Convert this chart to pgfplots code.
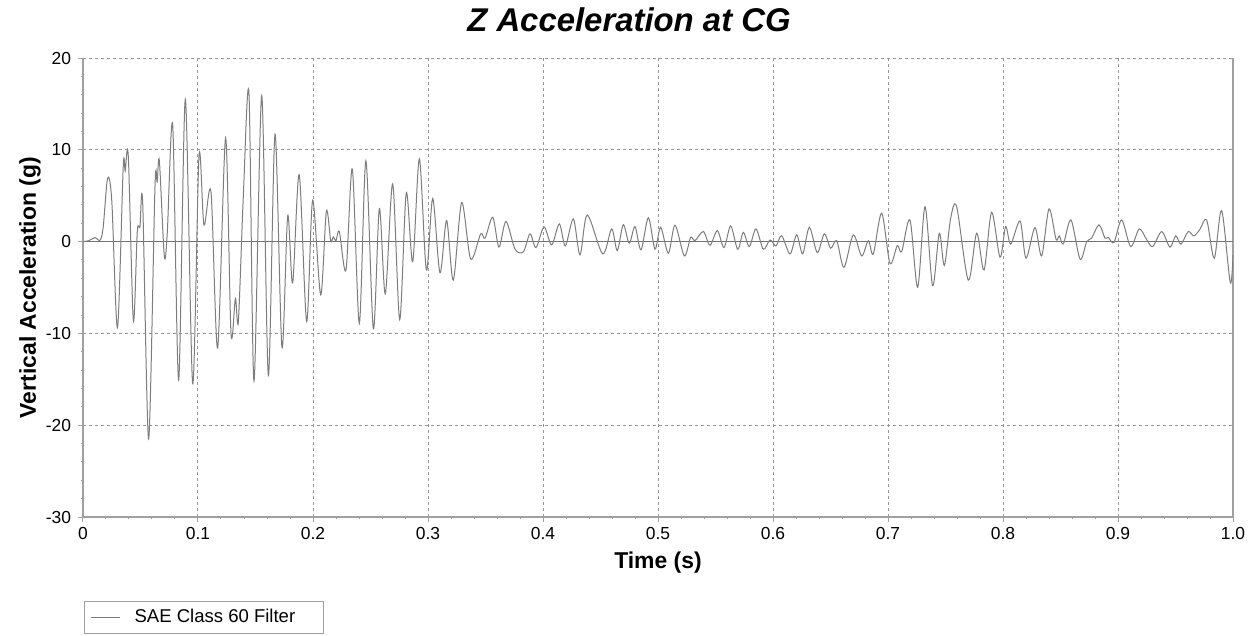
\documentclass[border=0pt]{standalone}
\usepackage{pgfplots}
\pgfplotsset{compat=1.18}
\usepackage{fontspec}
\setmainfont{Liberation Sans}

\definecolor{sigline}{RGB}{125,125,125}
\definecolor{gridc}{RGB}{150,150,150}
\definecolor{axisc}{RGB}{160,160,160}

\begin{document}
\begin{tikzpicture}
% fixed page frame, the axis box sits at (0,0)
\path[use as bounding box] (-41.5bp,-59.5bp) rectangle (588bp,258.5bp);
\begin{axis}[
    scale only axis,
    width=575bp, height=229.5bp,
    xmin=0, xmax=1, ymin=-30, ymax=20,
    axis x line*=bottom, axis y line*=box,
    ytick pos=left,
    axis line style={axisc, line width=0.6bp},
    xtick={0,0.1,...,1.0},
    xticklabels={0,0.1,0.2,0.3,0.4,0.5,0.6,0.7,0.8,0.9,1.0},
    ytick={-30,-20,...,20},
    minor tick num=4,
    tick align=outside,
    major tick length=2.5bp, minor tick length=1.2bp,
    tick style={axisc, line width=0.5bp},
    grid=major,
    major grid style={gridc, line width=0.5bp, dash pattern=on 1.5bp off 1.5bp},
    /pgf/number format/assume math mode=true,
    ticklabel style={font=\fontsize{8.75}{10}\selectfont},
    xticklabel style={yshift=1bp},
    title={Z Acceleration at CG},
    title style={font=\fontsize{16.5}{18}\selectfont\bfseries\itshape, at={(0.5,1)}, anchor=base, yshift=7.5bp, xshift=-14.5bp},
    xlabel={Time (s)},
    ylabel={Vertical Acceleration (g)},
    label style={font=\fontsize{11.5}{13}\selectfont\bfseries},
    xlabel style={at={(0.5,0)}, anchor=center, yshift=-23bp},
    ylabel style={at={(0,0.5)}, anchor=center, yshift=26.5bp},
    legend style={at={(0,0)}, anchor=north west, yshift=-42bp, xshift=0.5bp,
        draw=axisc, line width=0.5bp, font=\fontsize{9.3}{11}\selectfont,
        inner xsep=3bp, inner ysep=2bp},
    legend cell align=left,
    legend image code/.code={\draw[#1, line width=0.6bp] (0bp,0bp) -- (14.5bp,0bp);
        \path (19.5bp,0bp);},
]
\draw[black!55, line width=0.6bp] (axis cs:0,0) -- (axis cs:1,0);
\addplot[sigline, line width=0.5bp, smooth, tension=0.5] coordinates {
(0,0) (0.005,0.1) (0.0104,0.43) (0.0148,0.15) (0.0175,1.5) (0.0214,6.9)
(0.025,4.5) (0.030,-9.4) (0.035,8.2) (0.0367,7.7) (0.0394,9.3) (0.0438,-8.6)
(0.0472,1.1) (0.0495,1.6) (0.0519,4.25) (0.0571,-21.5) (0.0626,6.0) (0.0645,6.5)
(0.0664,8.8) (0.0707,-1.56) (0.0733,1.0) (0.078,12.7) (0.0832,-15.1) (0.089,15.5)
(0.0954,-15.5) (0.1009,9.4) (0.1052,1.8) (0.1113,5.4) (0.1171,-11.6) (0.124,11.3)
(0.1287,-10.0) (0.1325,-6.2) (0.1351,-8.7) (0.1394,4.9) (0.1443,16.2) (0.1487,-15.2)
(0.1554,15.9) (0.1612,-14.6) (0.167,11.7) (0.173,-11.5) (0.178,2.8) (0.1823,-4.5)
(0.188,7.3) (0.1945,-8.7) (0.1997,4.5) (0.2067,-5.8) (0.2116,3.3) (0.2154,0.1)
(0.2177,0.5) (0.22,0.1) (0.2229,1.1) (0.2287,-3.1) (0.2342,7.9) (0.2403,-8.9)
(0.246,8.8) (0.2525,-9.5) (0.2577,3.6) (0.2629,-5.7) (0.2693,6.3) (0.2754,-8.5)
(0.2811,5.3) (0.2867,-2.2) (0.2925,9.0) (0.2986,-3.1) (0.3041,4.7) (0.3104,-3.4)
(0.3162,2.3) (0.322,-4.2) (0.3293,4.25) (0.3371,-1.9) (0.3458,0.84) (0.3496,0.37)
(0.3563,2.65) (0.3617,-0.6) (0.3678,2.2) (0.3757,-0.83) (0.383,-1.1) (0.3887,0.84)
(0.3939,-0.65) (0.4009,1.6) (0.4075,-0.36) (0.4142,1.93) (0.4194,-0.47) (0.4264,2.47)
(0.4322,-1.45) (0.4385,2.9) (0.4519,-1.34) (0.4597,1.38) (0.4646,-0.98) (0.4698,1.85)
(0.475,-0.18) (0.48,1.64) (0.4852,-0.9) (0.4916,2.6) (0.4974,-0.83) (0.5023,1.56)
(0.509,-1.27) (0.5148,1.79) (0.5229,-1.56) (0.5284,0.47) (0.5322,0.1) (0.5394,1.1)
(0.5452,-0.4) (0.5516,1.2) (0.5574,-0.65) (0.5632,1.7) (0.5693,-0.83) (0.5742,1.0)
(0.5794,-0.54) (0.5852,1.38) (0.5916,-0.83) (0.5974,0.18) (0.6026,-0.47) (0.6075,0.65)
(0.6148,-1.34) (0.6206,0.73) (0.6258,-1.34) (0.6316,1.56) (0.6385,-1.2) (0.6446,0.84)
(0.6502,-0.72) (0.6554,0.1) (0.6617,-2.8) (0.6698,0.73) (0.6771,-1.56) (0.6829,0.1)
(0.6872,-1.34) (0.6945,3.1) (0.7017,-2.36) (0.7081,-0.43) (0.7119,-1.09) (0.7191,2.36)
(0.7258,-4.97) (0.7322,3.8) (0.7388,-4.8) (0.7446,0.91) (0.749,-2.6) (0.7545,2.55)
(0.7597,3.8) (0.7698,-4.2) (0.7771,0.91) (0.7835,-3.1) (0.7901,3.2) (0.7974,-1.7)
(0.8023,1.64) (0.8067,-0.28) (0.8148,2.25) (0.82,-1.8) (0.8278,1.53) (0.8336,-1.56)
(0.84,3.56) (0.8461,0.26) (0.849,0.62) (0.8525,-0.25) (0.8591,2.36) (0.867,-1.92)
(0.8728,0) (0.877,0.37) (0.8835,1.82) (0.8887,0.37) (0.8915,0.47) (0.8965,-0.1)
(0.9032,2.36) (0.911,-0.54) (0.9185,1.38) (0.925,0.2) (0.9302,-0.54) (0.938,1.09)
(0.9452,-0.6) (0.9502,0.62) (0.9548,-0.28) (0.961,1.09) (0.966,0.62) (0.9713,1.35)
(0.9771,2.36) (0.9837,-1.8) (0.9901,3.38) (0.9976,-4.46) (1.0,-1.45)
};
\addlegendentry{SAE Class 60 Filter\kern9bp\rule{0pt}{1pt}}
\end{axis}
\end{tikzpicture}
\end{document}
